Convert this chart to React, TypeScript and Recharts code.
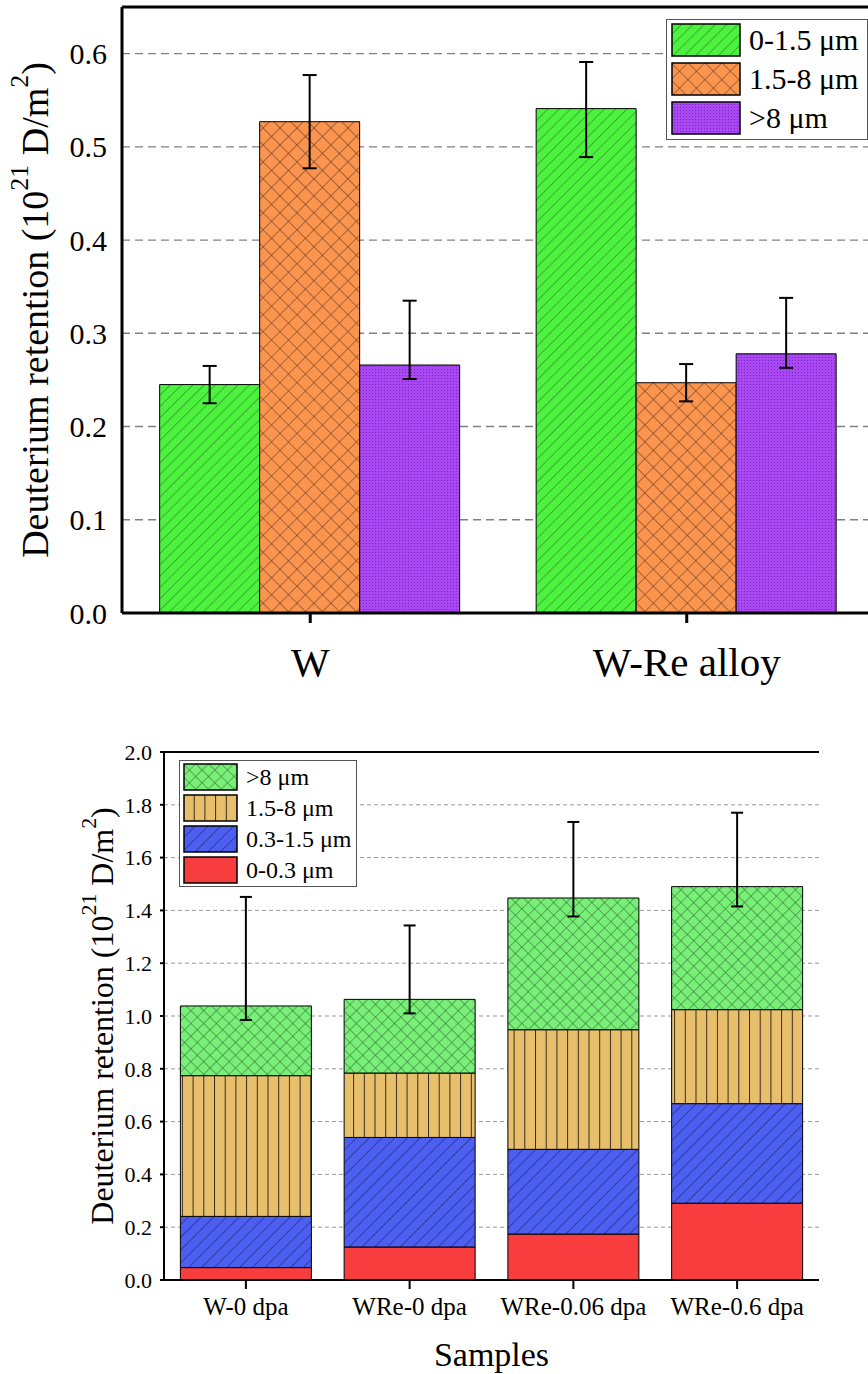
import React from 'react';
import { BarChart, Bar, XAxis, YAxis, CartesianGrid, ErrorBar, Legend, ReferenceLine } from 'recharts';

const FONT = 'Liberation Serif, Tinos, DejaVu Serif, Times New Roman, serif';

// ---- top chart: retention per depth range ----
const topSamples = ['W', 'W-Re alloy'];
const topDepths = ['0-1.5 μm', '1.5-8 μm', '>8 μm'];
const shallowVals = [0.245, 0.541];
const midVals = [0.527, 0.247];
const deepVals = [0.266, 0.278];
const shallowErr = [[0.02, 0.02], [0.052, 0.05]];
const midErr = [[0.05, 0.05], [0.02, 0.02]];
const deepErr = [[0.015, 0.069], [0.015, 0.06]];
const topTicks = [0, 0.1, 0.2, 0.3, 0.4, 0.5, 0.6];
const topMinorTicks = [0.05, 0.15, 0.25, 0.35, 0.45, 0.55];

// ---- bottom chart: stacked retention per sample ----
const bottomSamples = ['W-0 dpa', 'WRe-0 dpa', 'WRe-0.06 dpa', 'WRe-0.6 dpa'];
const layerNames = ['0-0.3 μm', '0.3-1.5 μm', '1.5-8 μm', '>8 μm'];
const layer1 = [0.047, 0.125, 0.174, 0.291];
const layer2 = [0.194, 0.415, 0.321, 0.377];
const layer3 = [0.533, 0.244, 0.453, 0.356];
const layer4 = [0.264, 0.279, 0.499, 0.466];
const totalErr = [[0.053, 0.413], [0.053, 0.28], [0.07, 0.288], [0.075, 0.28]];
const bottomTicks = [0, 0.2, 0.4, 0.6, 0.8, 1.0, 1.2, 1.4, 1.6, 1.8, 2.0];
const bottomMinorTicks = [0.1, 0.3, 0.5, 0.7, 0.9, 1.1, 1.3, 1.5, 1.7, 1.9];

const topData = topSamples.map((s, i) => ({
  sample: s,
  shallow: shallowVals[i],
  mid: midVals[i],
  deep: deepVals[i],
  shallowErr: shallowErr[i],
  midErr: midErr[i],
  deepErr: deepErr[i],
}));

const bottomData = bottomSamples.map((s, i) => ({
  sample: s,
  l1: layer1[i],
  l2: layer2[i],
  l3: layer3[i],
  l4: layer4[i],
  err: totalErr[i],
}));

const boundaries = (n: number) => Array.from({ length: n - 1 }, (_, i) => i + 1);

function AxisTitle(props: any) {
  const vb = props.viewBox ?? { x: 0, y: 0, width: 0, height: 0 };
  const fs = props.fontSize;
  const x = vb.x + props.cx;
  const y = vb.y + vb.height / 2;
  const up = -fs * 0.42;
  return (
    <text
      x={x}
      y={y}
      transform={`rotate(-90 ${x} ${y})`}
      textAnchor="middle"
      dominantBaseline="central"
      fontFamily={FONT}
      fontSize={fs}
      fill="#000"
    >
      Deuterium retention (10
      <tspan dy={up} fontSize={fs * 0.68}>21</tspan>
      <tspan dy={-up}> D/m</tspan>
      <tspan dy={up} fontSize={fs * 0.68}>2</tspan>
      <tspan dy={-up}>)</tspan>
    </text>
  );
}

function makeLegend(opts: { reverse: boolean; width: number; swW: number; swH: number; gap: number; fontSize: number; pad: string }) {
  return (props: any) => {
    const items = [...(props.payload ?? [])];
    if (opts.reverse) items.reverse();
    return (
      <div
        style={{
          width: opts.width,
          boxSizing: 'border-box',
          border: '1px solid #555',
          background: '#fff',
          padding: opts.pad,
          fontFamily: FONT,
          fontSize: opts.fontSize,
          lineHeight: 1,
          color: '#000',
        }}
      >
        {items.map((it: any, i: number) => (
          <div key={it.value} style={{ display: 'flex', alignItems: 'center', marginTop: i === 0 ? 0 : opts.gap }}>
            <svg width={opts.swW} height={opts.swH} style={{ display: 'block', flex: 'none' }}>
              <rect
                x={1}
                y={1}
                width={opts.swW - 2}
                height={opts.swH - 2}
                fill={it.payload?.fill ?? it.color}
                stroke="#000"
                strokeWidth={1.5}
              />
            </svg>
            <span style={{ marginLeft: 8, whiteSpace: 'nowrap' }}>{it.value}</span>
          </div>
        ))}
      </div>
    );
  };
}

const topDefs = (
  <defs>
    <pattern id="tGreen" patternUnits="userSpaceOnUse" width="8" height="8" patternTransform="rotate(45)">
      <rect width="8" height="8" fill="#4df23f" />
      <line x1="0" y1="0" x2="0" y2="8" stroke="#276b22" strokeWidth="1" />
    </pattern>
    <pattern id="tOrange" patternUnits="userSpaceOnUse" width="12" height="12" patternTransform="rotate(45)">
      <rect width="12" height="12" fill="#fa9550" />
      <line x1="0" y1="0" x2="0" y2="12" stroke="#5a3018" strokeWidth="1" />
      <line x1="0" y1="0" x2="12" y2="0" stroke="#5a3018" strokeWidth="1" />
    </pattern>
    <pattern id="tPurple" patternUnits="userSpaceOnUse" width="3" height="3">
      <rect width="3" height="3" fill="#a947f2" />
      <rect width="1" height="1" fill="#7a26c0" />
    </pattern>
  </defs>
);

const bottomDefs = (
  <defs>
    <pattern id="bGreen" patternUnits="userSpaceOnUse" width="9" height="9" patternTransform="rotate(45)">
      <rect width="9" height="9" fill="#78f078" />
      <line x1="0" y1="0" x2="0" y2="9" stroke="#2f5f2f" strokeWidth="1" />
      <line x1="0" y1="0" x2="9" y2="0" stroke="#2f5f2f" strokeWidth="1" />
    </pattern>
    <pattern id="bTan" patternUnits="userSpaceOnUse" width="10.7" height="10">
      <rect width="10.7" height="10" fill="#e8c06c" />
      <line x1="0.5" y1="0" x2="0.5" y2="10" stroke="#3a2a25" strokeWidth="1" />
    </pattern>
    <pattern id="bBlue" patternUnits="userSpaceOnUse" width="9" height="9" patternTransform="rotate(45)">
      <rect width="9" height="9" fill="#4d5ff0" />
      <line x1="0" y1="0" x2="0" y2="9" stroke="#101a55" strokeWidth="1" />
    </pattern>
  </defs>
);

const black = (w: number) => ({ stroke: '#000', strokeWidth: w });

function TopChart() {
  return (
    <BarChart
      width={900}
      height={700}
      data={topData}
      margin={{ top: 7, right: 25, left: 0, bottom: 0 }}
      barCategoryGap="10%"
      barGap={0}
      style={{ fontFamily: FONT }}
    >
      {topDefs}
      <CartesianGrid vertical={false} stroke="#808080" strokeWidth={1.4} strokeDasharray="8 5" />
      <XAxis
        xAxisId="minor"
        type="number"
        domain={[0, topSamples.length]}
        ticks={boundaries(topSamples.length)}
        tick={false}
        axisLine={false}
        tickLine={black(2)}
        tickSize={5}
        height={0}
      />
      <XAxis
        dataKey="sample"
        interval={0}
        height={87}
        tick={{ fontSize: 41, fill: '#000', fontFamily: FONT }}
        tickLine={black(3)}
        tickSize={10}
        tickMargin={24}
        axisLine={black(3)}
      />
      <YAxis
        width={122}
        domain={[0, 0.65]}
        allowDataOverflow
        ticks={topTicks}
        interval={0}
        tickFormatter={(v: number) => v.toFixed(1)}
        tick={{ fontSize: 30, fill: '#000', fontFamily: FONT }}
        tickLine={false}
        tickSize={0}
        tickMargin={15}
        axisLine={black(3)}
        label={<AxisTitle cx={35} fontSize={38} />}
      />
      <YAxis yAxisId="maj" mirror width={0} domain={[0, 0.65]} allowDataOverflow ticks={topTicks} interval={0}
        tick={false} axisLine={false} tickLine={black(3)} tickSize={11} />
      <YAxis yAxisId="min" mirror width={0} domain={[0, 0.65]} allowDataOverflow ticks={topMinorTicks} interval={0}
        tick={false} axisLine={false} tickLine={black(2.5)} tickSize={6} />
      <ReferenceLine y={0.65} stroke="#000" strokeWidth={3} />
      <Bar dataKey="shallow" name={topDepths[0]} fill="url(#tGreen)" stroke="#000" strokeWidth={1} isAnimationActive={false}>
        <ErrorBar dataKey="shallowErr" direction="y" width={7} stroke="#000" strokeWidth={2} />
      </Bar>
      <Bar dataKey="mid" name={topDepths[1]} fill="url(#tOrange)" stroke="#000" strokeWidth={1} isAnimationActive={false}>
        <ErrorBar dataKey="midErr" direction="y" width={7} stroke="#000" strokeWidth={2} />
      </Bar>
      <Bar dataKey="deep" name={topDepths[2]} fill="url(#tPurple)" stroke="#000" strokeWidth={1} isAnimationActive={false}>
        <ErrorBar dataKey="deepErr" direction="y" width={7} stroke="#000" strokeWidth={2} />
      </Bar>
      <Legend
        layout="vertical"
        align="center"
        verticalAlign="middle"
        wrapperStyle={{ left: 666, top: 19, width: 'auto' }}
        content={makeLegend({ reverse: false, width: 202, swW: 70, swH: 34, gap: 5, fontSize: 30, pad: '3px 4px 4px 4px' })}
      />
    </BarChart>
  );
}

function BottomChart() {
  return (
    <BarChart
      width={868}
      height={644}
      data={bottomData}
      margin={{ top: 22, right: 49, left: 0, bottom: 0 }}
      barCategoryGap="10%"
      style={{ fontFamily: FONT }}
    >
      {bottomDefs}
      <CartesianGrid vertical={false} stroke="#999" strokeWidth={1} strokeDasharray="4 3" />
      <XAxis
        xAxisId="minor"
        type="number"
        domain={[0, bottomSamples.length]}
        ticks={boundaries(bottomSamples.length)}
        tick={false}
        axisLine={false}
        tickLine={black(1.5)}
        tickSize={5}
        height={0}
      />
      <XAxis
        dataKey="sample"
        interval={0}
        height={94}
        tick={{ fontSize: 25, fill: '#000', fontFamily: FONT }}
        tickLine={black(2)}
        tickSize={9}
        tickMargin={8}
        axisLine={black(2)}
        label={{ value: 'Samples', position: 'insideBottom', offset: 8, fontSize: 34, fill: '#000', fontFamily: FONT }}
      />
      <YAxis
        width={164}
        domain={[0, 2]}
        allowDataOverflow
        ticks={bottomTicks}
        interval={0}
        tickFormatter={(v: number) => v.toFixed(1)}
        tick={{ fontSize: 22, fill: '#000', fontFamily: FONT }}
        tickLine={black(2)}
        tickSize={4}
        tickMargin={8}
        axisLine={black(2)}
        label={<AxisTitle cx={102} fontSize={32} />}
      />
      <YAxis yAxisId="maj" mirror width={0} domain={[0, 2]} allowDataOverflow ticks={bottomTicks} interval={0}
        tick={false} axisLine={false} tickLine={black(2)} tickSize={10} />
      <YAxis yAxisId="min" mirror width={0} domain={[0, 2]} allowDataOverflow ticks={bottomMinorTicks} interval={0}
        tick={false} axisLine={false} tickLine={black(2)} tickSize={6} />
      <YAxis yAxisId="frame" orientation="right" mirror width={0} domain={[0, 2]} allowDataOverflow
        tick={false} tickLine={false} axisLine={black(2)} />
      <ReferenceLine y={2} stroke="#000" strokeWidth={2} />
      <Bar dataKey="l1" name={layerNames[0]} stackId="a" fill="#f73d3d" stroke="#000" strokeWidth={1} isAnimationActive={false} />
      <Bar dataKey="l2" name={layerNames[1]} stackId="a" fill="url(#bBlue)" stroke="#000" strokeWidth={1} isAnimationActive={false} />
      <Bar dataKey="l3" name={layerNames[2]} stackId="a" fill="url(#bTan)" stroke="#000" strokeWidth={1} isAnimationActive={false} />
      <Bar dataKey="l4" name={layerNames[3]} stackId="a" fill="url(#bGreen)" stroke="#000" strokeWidth={1} isAnimationActive={false}>
        <ErrorBar dataKey="err" direction="y" width={6} stroke="#000" strokeWidth={2} />
      </Bar>
      <Legend
        layout="vertical"
        align="center"
        verticalAlign="middle"
        wrapperStyle={{ left: 179, top: 30, width: 'auto' }}
        content={makeLegend({ reverse: true, width: 178, swW: 55, swH: 28, gap: 3, fontSize: 24, pad: '2px 3px 2px 3px' })}
      />
    </BarChart>
  );
}

export default function App() {
  return (
    <div style={{ position: 'absolute', left: 0, top: 0, width: 868, height: 1374, overflow: 'hidden', background: '#fff', fontFamily: FONT }}>
      <div style={{ position: 'absolute', left: 0, top: 0 }}>
        <TopChart />
      </div>
      <div style={{ position: 'absolute', left: 0, top: 730 }}>
        <BottomChart />
      </div>
    </div>
  );
}
